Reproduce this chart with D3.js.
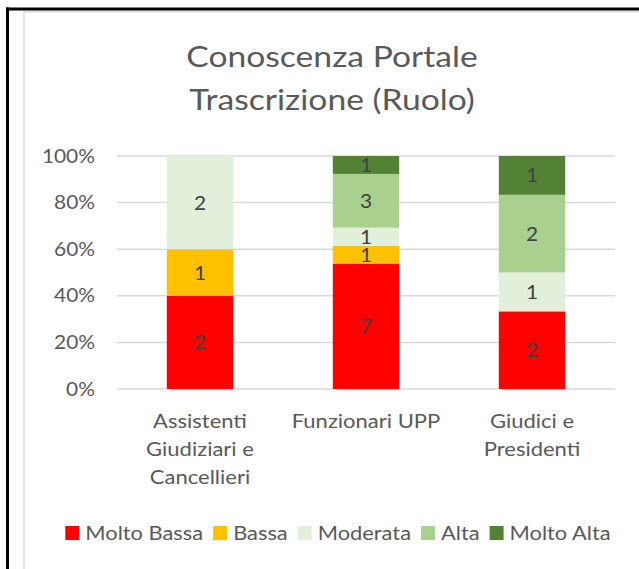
<!DOCTYPE html>
<html>
<head>
<meta charset="utf-8">
<script src="https://cdn.jsdelivr.net/npm/d3@7/dist/d3.min.js"></script>
<style>
  html, body { margin: 0; padding: 0; background: #fff; }
  svg { display: block; }
  text { font-family: Lato, "Open Sans", sans-serif; }
</style>
</head>
<body>
<svg id="chart" width="639" height="569"></svg>
<script>
// ---- data ----
const categories = [
  ["Assistenti", "Giudiziari e", "Cancellieri"],
  ["Funzionari UPP"],
  ["Giudici e", "Presidenti"]
];
const categoryKeys = ["Assistenti Giudiziari e Cancellieri", "Funzionari UPP", "Giudici e Presidenti"];
const seriesNames = ["Molto Bassa", "Bassa", "Moderata", "Alta", "Molto Alta"];
const seriesColors = ["#FF0000", "#FFC000", "#E2EFDA", "#A9D08E", "#548235"];
const moltoBassa = [2, 7, 2];
const bassa = [1, 1, 0];
const moderata = [2, 1, 1];
const alta = [0, 3, 2];
const moltoAlta = [0, 1, 1];
const yTicks = [0, 0.2, 0.4, 0.6, 0.8, 1.0];
const titleLines = ["Conoscenza Portale", "Trascrizione (Ruolo)"];

const seriesValues = [moltoBassa, bassa, moderata, alta, moltoAlta];
const SX = 1.1; // horizontal stretch of glyphs

const table = categoryKeys.map((k, i) => {
  const row = { key: k };
  const total = d3.sum(seriesValues, s => s[i]);
  seriesNames.forEach((n, j) => { row[n] = seriesValues[j][i] / total; row[n + "_raw"] = seriesValues[j][i]; });
  return row;
});

const svg = d3.select("#chart");

// frame
svg.append("rect").attr("x", 24).attr("y", 11.75).attr("width", 700).attr("height", 700)
  .attr("fill", "none").attr("stroke", "#d9d9d9").attr("stroke-width", 1.5);
svg.append("line").attr("x1", 7.5).attr("x2", 7.5).attr("y1", 7.5).attr("y2", 569)
  .attr("stroke", "#000").attr("stroke-width", 3);
svg.append("line").attr("x1", 6).attr("x2", 639).attr("y1", 9).attr("y2", 9)
  .attr("stroke", "#000").attr("stroke-width", 3);

function stretchedText(parent, x, y, txt, size, fill, anchor, sx) {
  return parent.append("text")
    .attr("transform", `translate(${x},${y}) scale(${sx},1)`)
    .attr("text-anchor", anchor || "middle")
    .attr("fill", fill).attr("font-size", size).text(txt);
}

// title
titleLines.forEach((t, i) => stretchedText(svg, 332, 67 + i * 43, t, 29, "#595959", "middle", 1.16));

const x = d3.scaleBand().domain(categoryKeys).range([117, 615]).paddingInner(0.6).paddingOuter(0.3);
const y = d3.scaleLinear().domain([0, 1]).range([389, 156]);

// gridlines
svg.append("g").selectAll("line").data(yTicks).join("line")
  .attr("x1", 117).attr("x2", 615)
  .attr("y1", d => y(d)).attr("y2", d => y(d))
  .attr("stroke", "#d9d9d9").attr("stroke-width", 1.5);

// y axis
const yAxis = d3.axisLeft(y).tickValues(yTicks).tickFormat(d3.format(".0%")).tickSize(0).tickPadding(0);
const yg = svg.append("g").attr("transform", "translate(95,0)").call(yAxis);
yg.select(".domain").remove();
yg.selectAll("text").attr("fill", "#595959").attr("font-size", 19).attr("font-family", "Lato, sans-serif")
  .attr("x", 0).attr("transform", `scale(${SX},1)`);

// bars
const stacked = d3.stack().keys(seriesNames)(table);
const layers = svg.append("g").selectAll("g").data(stacked).join("g")
  .attr("fill", (d, i) => seriesColors[i]);
layers.selectAll("rect").data(d => d).join("rect")
  .attr("x", d => x(d.data.key))
  .attr("width", x.bandwidth())
  .attr("y", d => y(d[1]))
  .attr("height", d => y(d[0]) - y(d[1]));

// data labels
stacked.forEach((layer, i) => {
  layer.filter(d => d.data[seriesNames[i] + "_raw"] > 0).forEach(d => {
    stretchedText(svg, x(d.data.key) + x.bandwidth() / 2, (y(d[0]) + y(d[1])) / 2 + 7,
      d.data[seriesNames[i] + "_raw"], 19, "#404040", "middle", SX);
  });
});

// category labels
const xAxis = d3.axisBottom(x).tickSize(0).tickFormat("");
const xg = svg.append("g").attr("transform", "translate(0,389)").call(xAxis);
xg.select(".domain").remove();
categoryKeys.forEach((k, i) => {
  categories[i].forEach((line, j) => {
    stretchedText(svg, x(k) + x.bandwidth() / 2, 428 + j * 28, line, 20, "#595959", "middle", SX);
  });
});

// legend
const lg = svg.append("g");
let cx = 0;
seriesNames.forEach((n, i) => {
  const g = lg.append("g").attr("transform", `translate(${cx},0)`);
  g.append("rect").attr("x", 0).attr("y", 526).attr("width", 14).attr("height", 14).attr("fill", seriesColors[i]);
  const t = stretchedText(g, 20, 539.5, n, 19, "#595959", "start", 1.15);
  const w = t.node().getComputedTextLength() * 1.15;
  cx += 20 + w + 10;
});
const totalW = cx - 10;
lg.attr("transform", `translate(${338 - totalW / 2},0)`);
</script>
</body>
</html>
